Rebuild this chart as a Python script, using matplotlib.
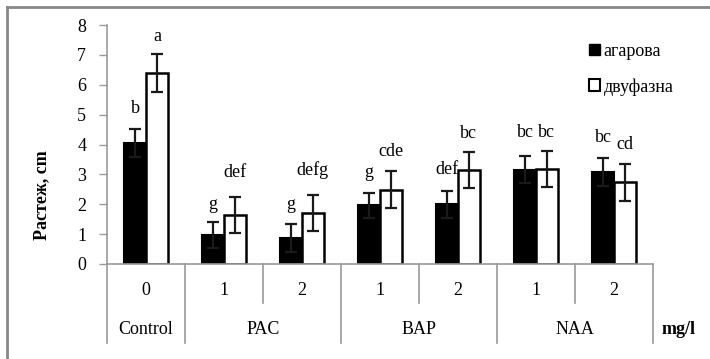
import matplotlib.pyplot as plt
import matplotlib.transforms as mtransforms
from matplotlib.patches import Patch
import numpy as np

plt.rcParams['font.family'] = ['Liberation Serif', 'DejaVu Serif']

# data
doses = ['0', '1', '2', '1', '2', '1', '2']
groups = ['Control', 'PAC', 'BAP', 'NAA']
group_size = [1, 2, 2, 2]
agar = [4.05, 0.97, 0.88, 1.96, 2.0, 3.15, 3.08]
agar_err = [0.47, 0.45, 0.47, 0.42, 0.46, 0.45, 0.47]
biph = [6.4, 1.63, 1.72, 2.48, 3.15, 3.18, 2.73]
biph_err = [0.63, 0.6, 0.6, 0.62, 0.6, 0.61, 0.63]
agar_letters = ['b', 'g', 'g', 'g', 'def', 'bc', 'bc']
biph_letters = ['a', 'def', 'defg', 'cde', 'bc', 'bc', 'cd']
agar_letter_y = [5.2, 1.98, 1.98, 3.05, 3.15, 4.4, 4.22]
biph_letter_y = [7.6, 3.05, 3.15, 3.76, 4.36, 4.4, 4.0]

fig = plt.figure(figsize=(7.1, 3.59), dpi=100)
ax = fig.add_axes([107/710, 1-264/359, 546/710, 239/359])

x = np.arange(len(doses))
w = 0.28
err_kw = dict(ecolor='#1a1a1a', elinewidth=1.6, capsize=4.5, capthick=1.6)
ax.bar(x - w/2, agar, w, color='black', edgecolor='black', linewidth=1.5,
       yerr=agar_err, error_kw=err_kw, zorder=2)
ax.bar(x + w/2, biph, w, color='white', edgecolor='black', linewidth=1.8,
       yerr=biph_err, error_kw=err_kw, zorder=2)

for i in range(len(doses)):
    ax.text(x[i] - w/2, agar_letter_y[i], agar_letters[i], ha='center', va='center', fontsize=13)
    ax.text(x[i] + w/2, biph_letter_y[i], biph_letters[i], ha='center', va='center', fontsize=13)

ax.set_xlim(-0.5, len(doses) - 0.5)
ax.set_ylim(0, 8)
ax.set_yticks(range(0, 9))
ax.tick_params(axis='y', length=6, width=1, color='#999999', pad=9, labelsize=13)
ax.set_xticks([])
for s in ['top', 'right']:
    ax.spines[s].set_visible(False)
for s in ['left', 'bottom']:
    ax.spines[s].set_color('#999999')
    ax.spines[s].set_linewidth(1.2)

# two-level category axis
trans = mtransforms.blended_transform_factory(ax.transData, ax.transAxes)
for i, d in enumerate(doses):
    ax.text(i, -0.11, d, transform=trans, ha='center', va='center', fontsize=13)
edges = np.concatenate([[0], np.cumsum(group_size)]) - 0.5
for e in edges:
    ax.plot([e, e], [0, -0.33], transform=trans, color='#999999', lw=1.2, clip_on=False)
for i in range(len(doses) - 1):
    b = i + 0.5
    if b not in edges:
        ax.plot([b, b], [0, -0.165], transform=trans, color='#999999', lw=1.2, clip_on=False)
for g, a, b in zip(groups, edges[:-1], edges[1:]):
    ax.text((a + b) / 2, -0.275, g, transform=trans, ha='center', va='center', fontsize=13)

fig.text(662/710, 1-330/359, 'mg/l', fontsize=13, fontweight='bold', va='center', ha='left')
fig.text(42/710, 1-195/359, 'Растеж, cm', fontsize=13, fontweight='bold',
         rotation=90, va='center', ha='center')

handles = [Patch(facecolor='black', edgecolor='black'),
           Patch(facecolor='white', edgecolor='black', linewidth=1.5)]
fig.legend(handles, ['агарова', 'двуфазна'], loc='upper left',
           bbox_to_anchor=(580/710, 1-34/359), frameon=False, fontsize=13,
           handlelength=0.6, handleheight=0.6, handletextpad=0.2, labelspacing=1.0,
           borderpad=0)

# outer chart frame
fig.add_artist(plt.Line2D([7/710, 7/710], [0, 1-7/359], color='#888888', lw=2))
fig.add_artist(plt.Line2D([7/710, 1], [1-7/359, 1-7/359], color='#888888', lw=2))

fig.savefig('out.png', dpi=100)
